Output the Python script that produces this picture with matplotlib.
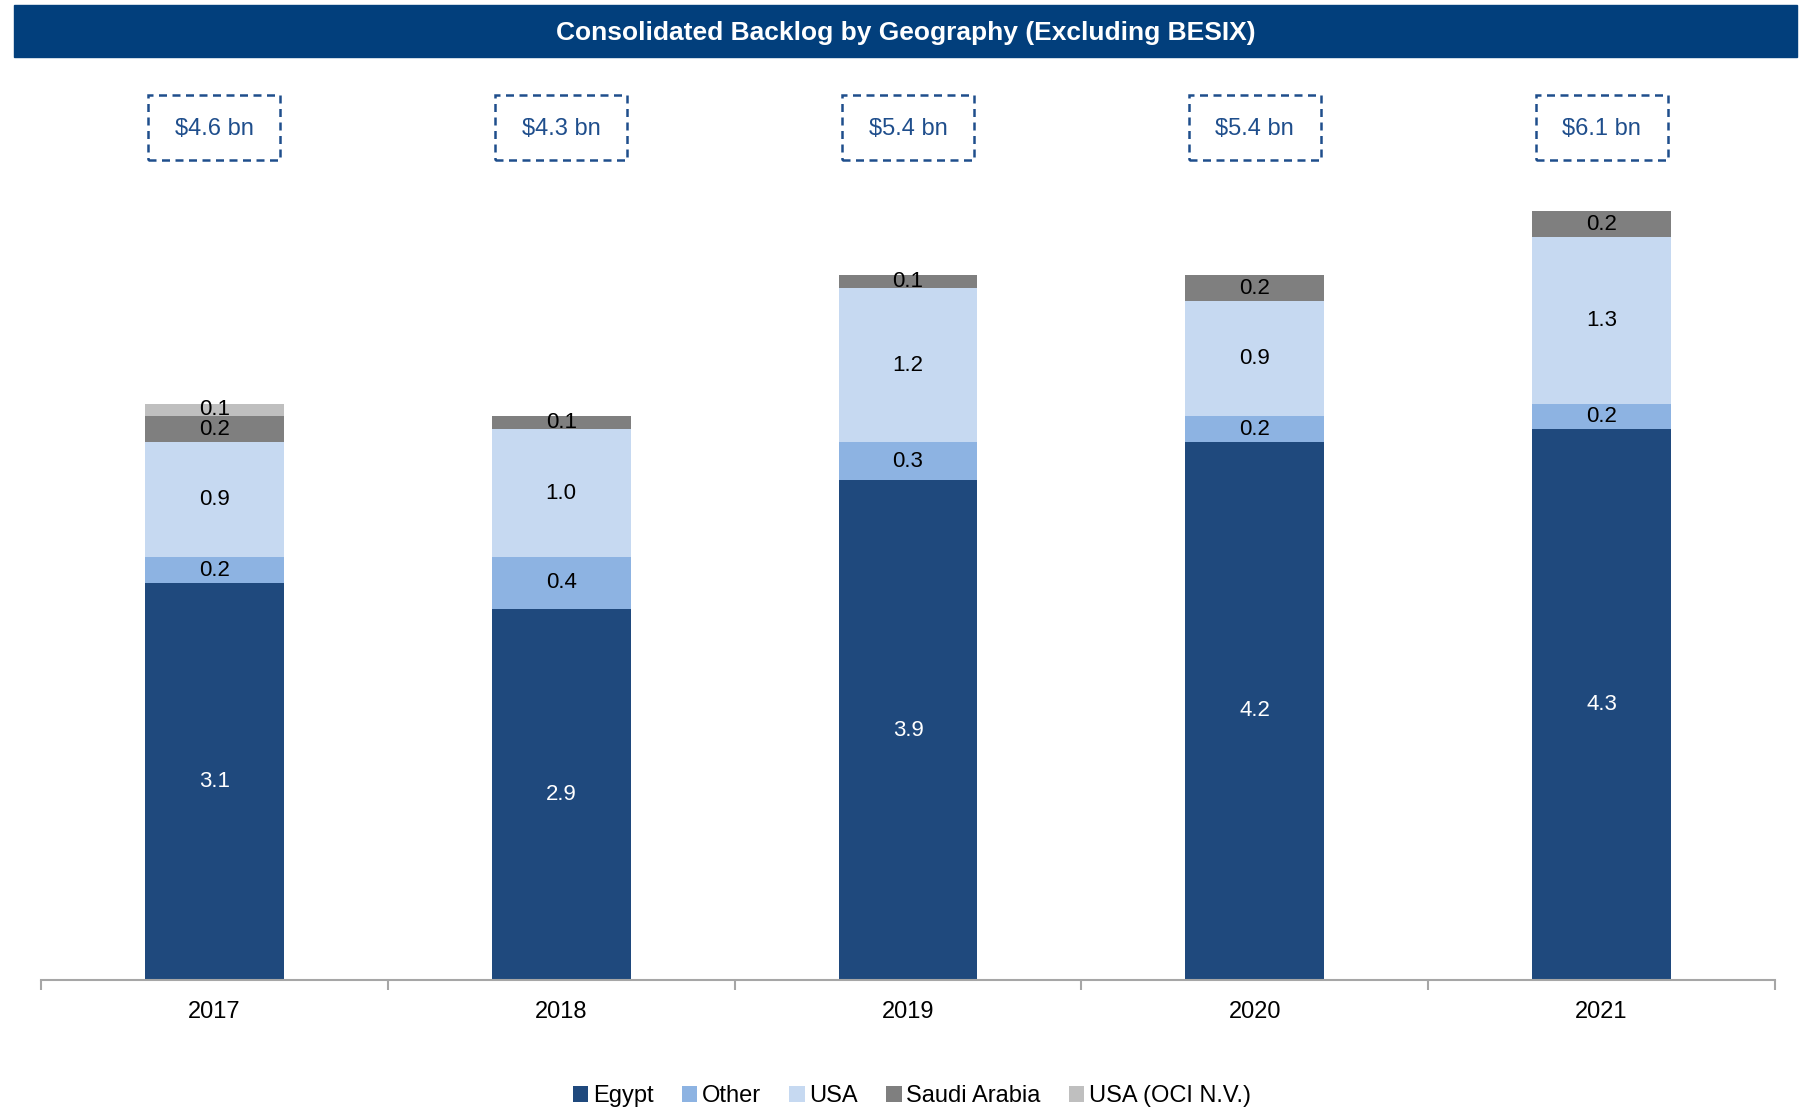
import numpy as np
import matplotlib.pyplot as plt
from matplotlib.patches import Rectangle
from matplotlib.transforms import blended_transform_factory

plt.rcParams["font.family"] = ["Liberation Sans", "DejaVu Sans"]

# backlog by geography, USD bn
years = ["2017", "2018", "2019", "2020", "2021"]
totals = ["$4.6 bn", "$4.3 bn", "$5.4 bn", "$5.4 bn", "$6.1 bn"]
egypt = [3.1, 2.9, 3.9, 4.2, 4.3]
other = [0.2, 0.4, 0.3, 0.2, 0.2]
usa = [0.9, 1.0, 1.2, 0.9, 1.3]
saudi = [0.2, 0.1, 0.1, 0.2, 0.2]
usa_oci = [0.1, 0.0, 0.0, 0.0, 0.0]

series = [
    ("Egypt", egypt, "#1F497D", "white"),
    ("Other", other, "#8DB3E2", "black"),
    ("USA", usa, "#C6D9F1", "black"),
    ("Saudi Arabia", saudi, "#7F7F7F", "black"),
    ("USA (OCI N.V.)", usa_oci, "#BFBFBF", "black"),
]

navy = "#023F7C"
box_blue = "#1F4E8C"

fig = plt.figure(figsize=(18, 11.09), dpi=100)
ax = fig.add_axes([41 / 1800, 1 - 980 / 1109, 1734 / 1800, 800 / 1109])

x = np.arange(len(years))
bottom = np.zeros(len(years))
handles = []
for name, vals, color, tcolor in series:
    vals = np.array(vals)
    bars = ax.bar(x, vals, 0.4, bottom=bottom, color=color, linewidth=0, label=name)
    handles.append(bars)
    for xi, b, v in zip(x, bottom, vals):
        if v > 0:
            ax.text(xi, b + v / 2, f"{v:.1f}", ha="center", va="center",
                    fontsize=16, color=tcolor)
    bottom += vals

ax.set_xlim(-0.5, len(years) - 0.5)
ax.set_ylim(0, 6.245)
for s in ["top", "right", "left"]:
    ax.spines[s].set_visible(False)
ax.spines["bottom"].set_color("#A6A6A6")
ax.spines["bottom"].set_linewidth(1.5)
ax.set_yticks([])

# category dividers as major ticks, year names on minor ticks
ax.set_xticks(np.arange(-0.5, len(years), 1.0))
ax.set_xticklabels([])
ax.tick_params(axis="x", which="major", length=7, width=1.5, color="#A6A6A6")
ax.set_xticks(x, minor=True)
ax.set_xticklabels(years, minor=True, fontsize=17)
ax.tick_params(axis="x", which="minor", length=0, pad=15)

# dashed total boxes above each bar
trans = blended_transform_factory(ax.transData, fig.transFigure)
bw = 132 / 346.8
y0, y1 = 1 - 160 / 1109, 1 - 95 / 1109
for xi, t in zip(x, totals):
    ax.add_patch(Rectangle((xi - bw / 2, y0), bw, y1 - y0, transform=trans,
                           fill=False, edgecolor=box_blue, linewidth=1.8,
                           linestyle=(0, (3.2, 2.2)), clip_on=False))
    ax.text(xi, (y0 + y1) / 2 - 2 / 1109, t, transform=trans, ha="center", va="center",
            fontsize=17, color=box_blue)

# title banner
fig.patches.append(Rectangle((14 / 1800, 1 - 57 / 1109), 1783 / 1800, 52 / 1109,
                             transform=fig.transFigure, color=navy, zorder=0))
fig.text(906 / 1800, 1 - 33 / 1109, "Consolidated Backlog by Geography (Excluding BESIX)",
         ha="center", va="center", fontsize=19, fontweight="bold", color="white")

fig.legend(handles=handles, loc="center", bbox_to_anchor=(912 / 1800, 1 - 1096 / 1109),
           ncol=5, frameon=False, fontsize=17, handlelength=0.65, handleheight=0.65,
           handletextpad=0.2, columnspacing=1.2)

fig.savefig("out.png", dpi=100)
